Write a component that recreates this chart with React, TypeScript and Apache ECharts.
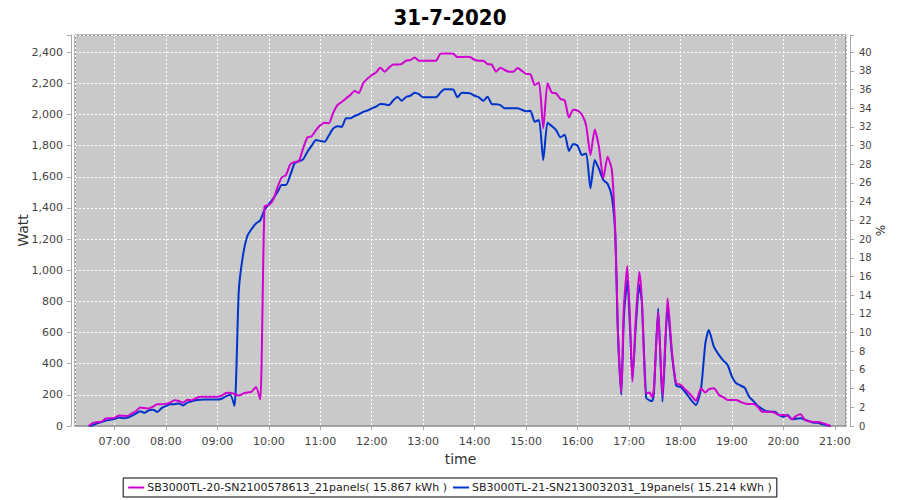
import React, { useEffect, useRef } from 'react';
import * as echarts from 'echarts';

const TITLE = '31-7-2020';
const SERIES_NAMES = [
  'SB3000TL-20-SN2100578613_21panels( 15.867 kWh )',
  'SB3000TL-21-SN2130032031_19panels( 15.214 kWh )',
];
const COLORS = ['#d000d0', '#0033cc'];

const times = [
  '06:30', '06:35', '06:40', '06:45', '06:50', '06:55',
  '07:00', '07:05', '07:10', '07:15', '07:20', '07:25', '07:30', '07:35', '07:40', '07:45', '07:50', '07:55',
  '08:00', '08:05', '08:10', '08:15', '08:20', '08:25', '08:30', '08:35', '08:40', '08:45', '08:50', '08:55',
  '09:00', '09:05', '09:10', '09:15', '09:20', '09:25', '09:30', '09:35', '09:40', '09:45', '09:50', '09:55',
  '10:00', '10:05', '10:10', '10:15', '10:20', '10:25', '10:30', '10:35', '10:40', '10:45', '10:50', '10:55',
  '11:00', '11:05', '11:10', '11:15', '11:20', '11:25', '11:30', '11:35', '11:40', '11:45', '11:50', '11:55',
  '12:00', '12:05', '12:10', '12:15', '12:20', '12:25', '12:30', '12:35', '12:40', '12:45', '12:50', '12:55',
  '13:00', '13:05', '13:10', '13:15', '13:20', '13:25', '13:30', '13:35', '13:40', '13:45', '13:50', '13:55',
  '14:00', '14:05', '14:10', '14:15', '14:20', '14:25', '14:30', '14:35', '14:40', '14:45', '14:50', '14:55',
  '15:00', '15:05', '15:10', '15:15', '15:20', '15:25', '15:30', '15:35', '15:40', '15:45', '15:50', '15:55',
  '16:00', '16:05', '16:10', '16:15', '16:20', '16:25', '16:30', '16:35', '16:40',
  '16:44', '16:47', '16:51', '16:54', '16:58', '17:01', '17:04', '17:08', '17:12', '17:15',
  '17:20', '17:24', '17:27', '17:29', '17:34', '17:39', '17:45', '17:50', '17:55',
  '18:00', '18:06', '18:12', '18:18', '18:24', '18:29', '18:33', '18:39', '18:45', '18:50', '18:55',
  '19:00', '19:05', '19:10', '19:15', '19:20', '19:25', '19:30', '19:35', '19:40', '19:45', '19:50', '19:55',
  '20:00', '20:05', '20:10', '20:15', '20:20', '20:25', '20:30', '20:35', '20:40', '20:45', '20:50', '20:55',
];

const powerA = [
  0, 20, 25, 28, 48, 50,
  52, 68, 66, 64, 80, 95, 118, 115, 112, 125, 140, 140,
  142, 150, 165, 160, 150, 168, 165, 178, 188, 188, 188, 188,
  188, 195, 212, 214, 205, 196, 208, 215, 220, 250, 170, 1410,
  1418, 1450, 1530, 1595, 1611, 1680, 1695, 1700, 1782, 1853, 1860, 1900,
  1930, 1947, 1943, 2010, 2060, 2080, 2103, 2125, 2150, 2138, 2200, 2230,
  2252, 2270, 2300, 2274, 2300, 2321, 2321, 2325, 2345, 2349, 2365, 2345,
  2345, 2345, 2345, 2345, 2390, 2392, 2392, 2390, 2368, 2368, 2370, 2368,
  2350, 2345, 2345, 2323, 2320, 2274, 2300, 2285, 2274, 2274, 2298, 2280,
  2260, 2258, 2189, 2205, 1911, 2200, 2140, 2135, 2100, 2090, 1980, 2030,
  2025, 2000, 1930, 1739, 1904, 1790, 1590, 1728, 1643,
  1236, 620, 215, 760, 1027, 700, 284, 700, 990, 809,
  210, 215, 185, 240, 734, 188, 820, 480, 274,
  264, 232, 200, 163, 242, 215, 235, 242, 199, 185, 167,
  167, 167, 155, 145, 141, 141, 124, 92, 92, 92, 85, 70,
  70, 65, 43, 65, 75, 40, 30, 25, 25, 20, 10, 0,
];

const powerB = [
  0, 5, 18, 25, 35, 40,
  45, 55, 50, 52, 65, 80, 95, 85, 100, 105, 90, 115,
  128, 140, 140, 145, 132, 150, 158, 165, 168, 170, 170, 170,
  170, 175, 190, 200, 130, 870, 1100, 1220, 1265, 1300, 1320, 1388,
  1425, 1460, 1500, 1547, 1547, 1610, 1686, 1700, 1712, 1761, 1800, 1836,
  1830, 1825, 1865, 1910, 1925, 1920, 1975, 1975, 1990, 2000, 2017, 2025,
  2039, 2050, 2067, 2065, 2060, 2090, 2112, 2088, 2112, 2120, 2140, 2130,
  2110, 2110, 2110, 2110, 2140, 2161, 2161, 2160, 2110, 2140, 2138, 2135,
  2120, 2110, 2088, 2114, 2067, 2065, 2060, 2039, 2039, 2039, 2039, 2030,
  2020, 2024, 1953, 1965, 1707, 1947, 1925, 1900, 1853, 1870, 1765, 1810,
  1800, 1739, 1750, 1525, 1707, 1650, 1579, 1555, 1470,
  1226, 600, 200, 700, 935, 650, 300, 650, 905, 790,
  180, 165, 160, 210, 755, 156, 766, 460, 260,
  250, 215, 170, 135, 242, 531, 616, 509, 455, 420, 392,
  317, 274, 260, 245, 188, 160, 130, 110, 95, 92, 92, 70,
  60, 70, 43, 47, 49, 40, 30, 21, 20, 12, 5, 0,
];

const X_MIN = '06:14';
const X_MAX = '21:13';
const Y_MAX = 2510;
const Y_STEP = 200;
const PCT_MAX = Y_MAX / 60;
const PCT_STEP = 2;

function toTs(hm: string): number {
  const [h, m] = hm.split(':').map(Number);
  return new Date(2020, 6, 31, h, m).getTime();
}

const pad = (n: number) => (n < 10 ? '0' + n : '' + n);

const FONT = 'DejaVu Sans';

export default function App() {
  const ref = useRef<HTMLDivElement>(null);

  useEffect(() => {
    if (!ref.current) return;
    const chart = echarts.init(ref.current, undefined, { renderer: 'svg' });
    const axisLineColor = '#a8a8a8';
    const labelColor = '#444444';
    const option: any = {
      animation: false,
      backgroundColor: '#ffffff',
      title: {
        text: TITLE,
        left: 'center',
        top: 1,
        textStyle: {
          fontFamily: "'DejaVu Sans Condensed', 'DejaVu Sans'",
          fontWeight: 'bold',
          fontSize: 22,
          color: '#000000',
        },
      },
      grid: {
        left: 75,
        right: 54,
        top: 35,
        bottom: 74,
        show: true,
        backgroundColor: '#c9c9c9',
        borderColor: '#6f6f6f',
        borderWidth: 1,
      },
      legend: {
        data: SERIES_NAMES,
        bottom: 3,
        left: 'center',
        icon: 'rect',
        itemWidth: 16,
        itemHeight: 2,
        itemGap: 6,
        padding: [4, 5, 4, 5],
        borderColor: '#000000',
        borderWidth: 1,
        textStyle: { fontFamily: FONT, fontSize: 11, color: '#222222', padding: [0, 0, 0, -2] },
      },
      xAxis: {
        type: 'time',
        min: toTs(X_MIN),
        max: toTs(X_MAX),
        minInterval: 3600 * 1000,
        maxInterval: 3600 * 1000,
        offset: 4,
        name: 'time',
        nameLocation: 'middle',
        nameGap: 22,
        nameMoveOverlap: false,
        nameTextStyle: { fontFamily: FONT, fontSize: 14, color: '#333333' },
        axisLine: { show: true, lineStyle: { color: axisLineColor, width: 1 } },
        axisTick: { show: true, length: 4, lineStyle: { color: axisLineColor } },
        axisLabel: {
          fontFamily: FONT,
          fontSize: 11,
          color: labelColor,
          margin: 6,
          showMinLabel: false,
          showMaxLabel: false,
          formatter: (val: number) => {
            const d = new Date(val);
            return d.getMinutes() === 0 ? pad(d.getHours()) + ':00' : '';
          },
        },
        splitLine: { show: true, lineStyle: { color: '#ffffff', width: 1, type: [2, 2] } },
      },
      yAxis: [
        {
          type: 'value',
          min: 0,
          max: Y_MAX,
          interval: Y_STEP,
          offset: 4,
          name: 'Watt',
          nameLocation: 'middle',
          nameRotate: 90,
          nameGap: 41,
          nameMoveOverlap: false,
          nameTextStyle: { fontFamily: FONT, fontSize: 14, color: '#333333' },
          axisLine: { show: true, lineStyle: { color: axisLineColor, width: 1 } },
          axisTick: { show: true, length: 4, lineStyle: { color: axisLineColor } },
          axisLabel: {
            fontFamily: FONT,
            fontSize: 11,
            color: labelColor,
            margin: 8,
            formatter: (v: number) => (v % Y_STEP === 0 ? v.toLocaleString('en-US') : ''),
          },
          splitLine: { show: true, lineStyle: { color: '#ffffff', width: 1, type: [2, 2] } },
        },
        {
          type: 'value',
          min: 0,
          max: PCT_MAX,
          interval: PCT_STEP,
          position: 'right',
          offset: 4,
          name: '%',
          nameLocation: 'middle',
          nameRotate: 90,
          nameGap: 25,
          nameMoveOverlap: false,
          nameTextStyle: { fontFamily: FONT, fontSize: 12, color: '#333333' },
          axisLine: { show: true, lineStyle: { color: axisLineColor, width: 1 } },
          axisTick: { show: true, length: 4, lineStyle: { color: axisLineColor } },
          axisLabel: {
            fontFamily: FONT,
            fontSize: 10,
            color: labelColor,
            margin: 9,
            formatter: (v: number) => {
              const r = Math.round(v);
              return Math.abs(v - r) < 1e-6 && r % PCT_STEP === 0 ? String(r) : '';
            },
          },
          splitLine: { show: false },
        },
      ],
      series: [
        {
          name: SERIES_NAMES[0],
          type: 'line',
          yAxisIndex: 0,
          z: 3,
          showSymbol: false,
          smooth: 0.2,
          lineStyle: { color: COLORS[0], width: 2 },
          itemStyle: { color: COLORS[0] },
          data: times.map((t, i) => [toTs(t), powerA[i]]),
        },
        {
          name: SERIES_NAMES[1],
          type: 'line',
          yAxisIndex: 0,
          z: 2,
          showSymbol: false,
          smooth: 0.2,
          lineStyle: { color: COLORS[1], width: 2 },
          itemStyle: { color: COLORS[1] },
          data: times.map((t, i) => [toTs(t), powerB[i]]),
        },
      ],
    };
    chart.setOption(option);
    return () => chart.dispose();
  }, []);

  return (
    <div
      ref={ref}
      style={{ position: 'fixed', left: 0, top: 0, width: 900, height: 500, background: '#fff' }}
    />
  );
}
